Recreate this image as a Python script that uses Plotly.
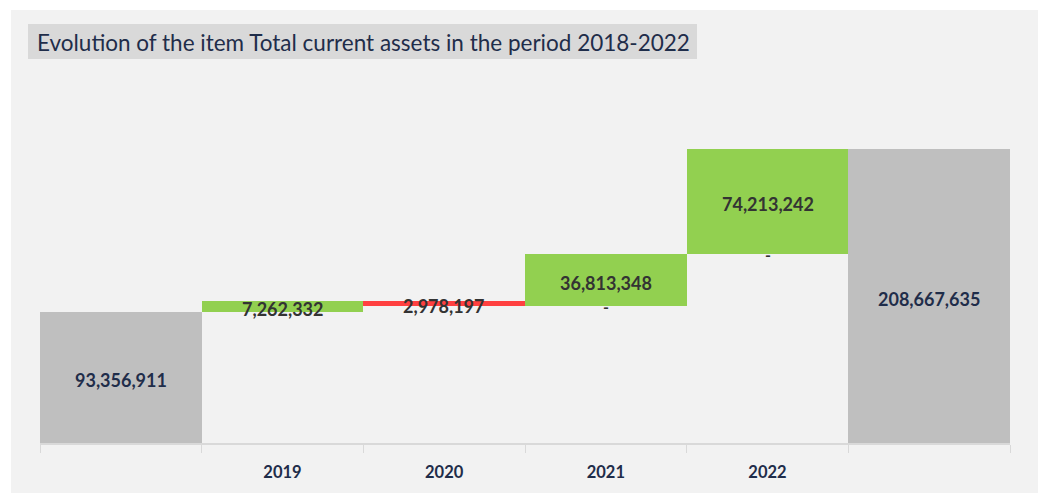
import plotly.graph_objects as go

# ---- data ----
categories = ["2018", "2019", "2020", "2021", "2022", "Total"]
tick_labels = ["", "2019", "2020", "2021", "2022", ""]
measures = ["absolute", "relative", "relative", "relative", "relative", "absolute"]
values = [93356911, 7262332, -2978197, 36813348, 74213242, 208667635]
zero_label_cats = ["2021", "2022"]

title_text = "Evolution of the item Total current assets in the period 2018-2022"

GREY = "#bfbfbf"
GREEN = "#92d050"
RED = "#ff4040"
NAVY = "#1f2d4a"
DARK = "#333333"

# label positions derived from data
mids, bases = [], []
cum = 0
for m, v in zip(measures, values):
    if m == "absolute":
        bases.append(0)
        mids.append(v / 2)
        cum = v
    else:
        bases.append(cum)
        mids.append(cum + v / 2)
        cum = cum + v

labels = [f"{abs(v):,}" for v in values]
label_colors = [NAVY if m == "absolute" else DARK for m in measures]

W, H = 1041, 494
ML, MR, MT, MB = 40, 31, 91, 51
PW, PH = W - ML - MR, H - MT - MB


def px(x):
    return (x - ML) / PW


def py(y):
    return (H - MB - y) / PH


fig = go.Figure()
fig.add_trace(go.Waterfall(
    x=categories, y=values, measure=measures,
    increasing=dict(marker=dict(color=GREEN)),
    decreasing=dict(marker=dict(color=RED)),
    totals=dict(marker=dict(color=GREY)),
    connector=dict(visible=False),
    textinfo="none", hoverinfo="skip", showlegend=False,
))

annotations = [
    dict(text=title_text, xref="paper", yref="paper",
         x=px(35), y=py(42), xanchor="left", yanchor="middle",
         showarrow=False, font=dict(family="Lato", size=22.5, color=NAVY)),
]

# category positions on the category axis are indices
for i, (c, b) in enumerate(zip(categories, bases)):
    if c in zero_label_cats:
        annotations.append(dict(
            x=i, y=b, xref="x", yref="y", text="-", showarrow=False,
            xanchor="center", yanchor="middle", yshift=-1,
            font=dict(family="Lato", size=16, color=DARK, weight="bold")))

for i, (yv, t, col) in enumerate(zip(mids, labels, label_colors)):
    annotations.append(dict(
        x=i, y=yv, xref="x", yref="y", text=t, showarrow=False,
        xanchor="center", yanchor="middle", yshift=-3,
        font=dict(family="Lato", size=18, color=col, weight="bold")))

fig.update_layout(
    width=W, height=H,
    margin=dict(l=ML, r=MR, t=MT, b=MB, pad=0, autoexpand=False),
    paper_bgcolor="white",
    plot_bgcolor="rgba(0,0,0,0)",
    waterfallgap=0,
    font=dict(family="Lato", color=NAVY),
    shapes=[
        dict(type="rect", xref="paper", yref="paper", layer="below",
             x0=px(11), x1=px(1038), y0=py(493), y1=py(10),
             fillcolor="#f2f2f2", line=dict(width=0)),
        dict(type="rect", xref="paper", yref="paper", layer="below",
             x0=px(28), x1=px(697), y0=py(59), y1=py(24),
             fillcolor="#d9d9d9", line=dict(width=0)),
    ],
    annotations=annotations,
    xaxis=dict(
        type="category", categoryorder="array", categoryarray=categories,
        tickmode="array", tickvals=categories, ticktext=tick_labels,
        range=[-0.5, len(categories) - 0.5], tickangle=0,
        showline=True, linecolor="#d9d9d9", linewidth=2,
        ticks="outside", tickson="boundaries", ticklen=8, tickcolor="#d9d9d9", tickwidth=1,
        showgrid=False, zeroline=False, ticklabelstandoff=13,
        tickfont=dict(family="Lato", size=16.5, color=NAVY, weight="bold"),
        fixedrange=True,
    ),
    yaxis=dict(range=[0, 250e6], visible=False, showgrid=False, zeroline=False, fixedrange=True),
)

fig.write_html("out.html", config={"displayModeBar": False},
               post_script="document.body.style.margin='0';document.body.style.overflow='hidden';")
